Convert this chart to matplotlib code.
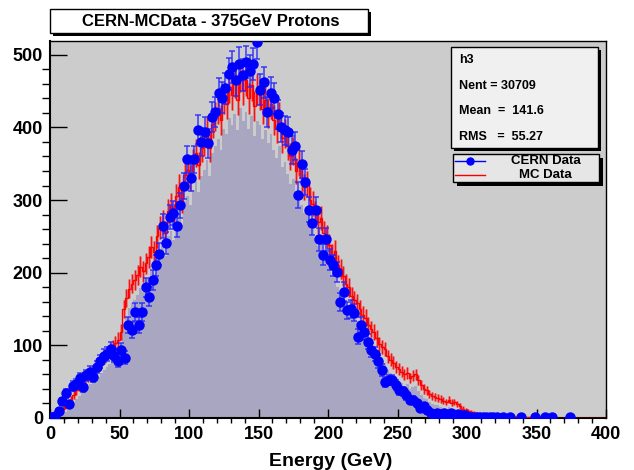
import numpy as np
import matplotlib.pyplot as plt
from matplotlib.patches import Rectangle
from matplotlib.lines import Line2D

plt.rcParams['font.family'] = ['Liberation Sans', 'DejaVu Sans']
plt.rcParams['font.weight'] = 'bold'

# MC data, 2 GeV bins from 0 to 400
mc_width = 2.0
mc_counts = [
    1, 3, 6, 9, 13, 17, 20, 25, 32, 38,
    44, 49, 52, 57, 62, 64, 68, 74, 80, 84,
    89, 93, 98, 103, 108, 118, 150, 165, 178, 185,
    190, 197, 208, 202, 213, 222, 235, 228, 250, 262,
    270, 255, 285, 292, 278, 305, 318, 300, 335, 342,
    330, 352, 365, 348, 372, 380, 395, 372, 405, 415,
    425, 410, 440, 432, 455, 445, 462, 438, 470, 452,
    465, 440, 458, 430, 452, 445, 425, 438, 420, 432,
    410, 398, 415, 385, 392, 375, 360, 368, 340, 352,
    330, 318, 322, 300, 295, 282, 270, 275, 255, 250,
    238, 225, 230, 210, 205, 195, 185, 180, 168, 162,
    158, 150, 142, 138, 128, 122, 118, 110, 102, 98,
    95, 85, 80, 76, 70, 68, 64, 60, 62, 55,
    58, 60, 52, 45, 40, 38, 33, 30, 29, 28,
    26, 24, 22, 25, 21, 22, 19, 16, 13, 11,
    9, 8, 7, 6, 6, 5, 5, 4, 4, 3,
    3, 3, 3, 2, 2, 2, 2, 2, 1, 2,
    1, 1, 1, 1, 1, 1, 1, 0, 1, 0,
    0, 0, 0, 0, 0, 0, 0, 0, 0, 0,
    0, 0, 0, 0, 0, 0, 0, 0, 0, 0,
]

# CERN data, 2.5 GeV bins from 0 to 375
cern_width = 2.5
cern_counts = [
    1, 3, 9, 23, 34, 19, 44, 47, 55, 43,
    59, 63, 57, 70, 78, 86, 88, 95, 86, 79,
    94, 83, 128, 121, 146, 128, 146, 180, 167, 190,
    210, 226, 264, 241, 277, 282, 265, 293, 320, 356,
    331, 356, 397, 380, 394, 378, 414, 421, 447, 441,
    454, 474, 483, 465, 488, 472, 490, 478, 487, 517,
    452, 462, 421, 448, 440, 418, 400, 396, 394, 369,
    374, 307, 349, 325, 287, 269, 287, 246, 225, 246,
    218, 210, 201, 160, 174, 148, 150, 145, 112, 128,
    118, 105, 94, 88, 78, 66, 50, 52, 52, 45,
    38, 37, 31, 25, 25, 20, 14, 16, 11, 7,
    6, 7, 6, 7, 4, 7, 1, 6, 4, 4,
    2, 1, 2, 1, 1, 2, 1, 1, 1, 0,
    1, 0, 1, 0, 0, 1, 0, 0, 0, 1,
    0, 0, 1, 0, 1, 0, 0, 0, 0, 1,
]

title = 'CERN-MCData - 375GeV Protons'
stats = ['h3', 'Nent = 30709', 'Mean  =  141.6', 'RMS   =  55.27']

mc = np.array(mc_counts, dtype=float)
mc_edges = np.arange(len(mc) + 1) * mc_width
mc_x = mc_edges[:-1] + mc_width / 2
mc_err = np.sqrt(mc)
fill_vals = np.clip(mc - 2 * mc_err, 0, None)

cern = np.array(cern_counts, dtype=float)
cern_x = np.arange(len(cern)) * cern_width + cern_width / 2
keep = cern > 0

W, H = 634, 470
fig = plt.figure(figsize=(W / 100, H / 100), dpi=100)
ax = fig.add_axes([50 / W, 1 - 418 / H, 556 / W, 377 / H])
ax.set_facecolor('#cccccc')

ax.stairs(fill_vals, mc_edges, fill=True, color='#a8a6c0', zorder=1)

# MC: light error bars plus step line
ax.errorbar(mc_x, mc, yerr=mc_err, fmt='none', ecolor=(1, 0, 0, 0.4),
            elinewidth=2, zorder=2)
ax.errorbar(mc_x, mc, yerr=mc_err, fmt='none', ecolor='red',
            elinewidth=0.6, zorder=3)
ax.stairs(mc, mc_edges, color='red', lw=1, zorder=3)

# CERN data points
ax.errorbar(cern_x[keep], cern[keep], yerr=np.sqrt(cern[keep]), fmt='o',
            color='blue', ms=6.5, ecolor=(0.15, 0.15, 1, 0.8), elinewidth=1.2,
            capsize=2, capthick=1.2, zorder=4)

ax.set_xlim(0, 400)
ax.set_ylim(0, 519)
ax.set_xticks(np.arange(0, 401, 50))
ax.set_xticks(np.arange(0, 401, 10), minor=True)
ax.set_yticks(np.arange(0, 501, 100))
ax.set_yticks(np.arange(0, 519, 20), minor=True)
ax.tick_params(direction='in', top=False, right=False, labelsize=13)
ax.tick_params(axis='y', which='major', length=12, width=1, pad=5)
ax.tick_params(axis='y', which='minor', length=6, width=1)
ax.tick_params(axis='x', which='major', length=6.5, width=1, pad=6)
ax.tick_params(axis='x', which='minor', length=3.5, width=1)
for lab in ax.get_xticklabels() + ax.get_yticklabels():
    lab.set_fontweight('bold')
for s in ax.spines.values():
    s.set_color('black')
    s.set_linewidth(1)
ax.spines['left'].set_linewidth(1.5)
ax.spines['bottom'].set_linewidth(1.5)

fig.text(331 / W, 1 - 466 / H, 'Energy (GeV)', ha='center', va='baseline',
         fontsize=14, fontweight='bold')


def box(x0, y0, x1, y1, face, shadow=3):
    # pixel coords, y measured from the top
    fig.patches.append(Rectangle(((x0 + shadow) / W, 1 - (y1 + shadow) / H),
                                 (x1 - x0) / W, (y1 - y0) / H, transform=fig.transFigure,
                                 facecolor='black', edgecolor='none', zorder=5))
    fig.patches.append(Rectangle((x0 / W, 1 - y1 / H), (x1 - x0) / W, (y1 - y0) / H,
                                 transform=fig.transFigure, facecolor=face,
                                 edgecolor='black', lw=1, zorder=6))


box(50, 9, 368, 33, 'white', shadow=3)
fig.text(211 / W, 1 - 21.5 / H, title, ha='center', va='center',
         fontsize=12, fontweight='bold', zorder=7)

box(451, 47, 598, 148, '#f0f0f0', shadow=3)
for i, s in enumerate(stats):
    fig.text(459 / W, 1 - (60 + 25.6 * i) / H, s, ha='left', va='center',
             fontsize=9, fontweight='bold', zorder=7)

box(453, 154, 599, 182, '#e6e6e6', shadow=4)
fig.lines.append(Line2D([455 / W, 485 / W], [1 - 161 / H] * 2, transform=fig.transFigure,
                        color='blue', lw=1, zorder=7))
fig.lines.append(Line2D([470 / W], [1 - 161 / H], transform=fig.transFigure,
                        color='blue', marker='o', ms=5, zorder=7))
fig.lines.append(Line2D([455 / W, 485 / W], [1 - 175 / H] * 2, transform=fig.transFigure,
                        color='red', lw=1, zorder=7))
fig.text(546 / W, 1 - 161 / H, 'CERN Data', ha='center', va='center',
         fontsize=9.5, fontweight='bold', zorder=7)
fig.text(545 / W, 1 - 175 / H, 'MC Data', ha='center', va='center',
         fontsize=9.5, fontweight='bold', zorder=7)

fig.savefig('out.png', dpi=100)
